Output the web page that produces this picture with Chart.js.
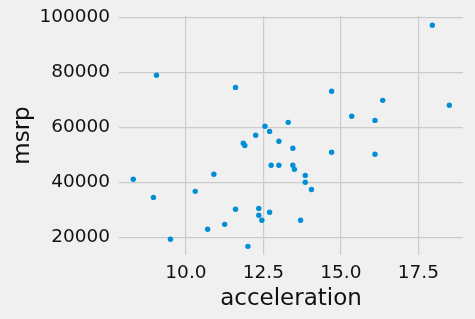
<!DOCTYPE html>
<html>
<head>
<meta charset="utf-8">
<script src="https://cdn.jsdelivr.net/npm/chart.js@4/dist/chart.umd.min.js"></script>
<style>
  html, body { margin: 0; padding: 0; background: #f0f0f0; }
  canvas { display: block; }
</style>
</head>
<body>
<canvas id="c" width="475" height="319"></canvas>
<script>
const acceleration = [8.3, 8.95, 9.05, 9.5, 10.3, 10.7, 10.9, 11.25, 11.6, 11.6, 11.85, 11.9, 12.0, 12.25, 12.35, 12.35, 12.45, 12.55, 12.7, 12.75, 12.7, 13.0, 13.0, 13.3, 13.45, 13.45, 13.5, 13.7, 13.85, 13.85, 14.05, 14.7, 14.7, 15.35, 16.1, 16.1, 16.35, 17.95, 18.5];
const msrp = [41100, 34500, 78900, 19300, 36700, 22900, 42900, 24700, 74500, 30200, 54200, 53400, 16700, 57100, 30500, 28000, 26200, 60400, 58500, 46200, 29100, 54900, 46200, 61800, 46200, 52400, 44700, 26200, 42500, 40000, 37400, 73100, 50900, 64000, 62500, 50200, 69800, 97100, 68000];
const xTicks = [10.0, 12.5, 15.0, 17.5];
const yTicks = [20000, 40000, 60000, 80000, 100000];

const points = acceleration.map((a, i) => ({ x: a, y: msrp[i] }));
const font = 'DejaVu Sans';

new Chart(document.getElementById('c'), {
  type: 'scatter',
  data: {
    datasets: [{
      data: points,
      backgroundColor: '#008fd5',
      pointRadius: 2.7,
      pointHoverRadius: 2.7,
      borderWidth: 0
    }]
  },
  options: {
    responsive: false,
    animation: false,
    layout: { padding: { top: 16, right: 12, left: 0, bottom: 0 } },
    plugins: { legend: { display: false }, tooltip: { enabled: false } },
    scales: {
      x: {
        type: 'linear',
        min: 7.84,
        max: 18.94,
        afterBuildTicks: s => { s.ticks = xTicks.map(v => ({ value: v })); },
        afterFit: s => { s.height = 64; s.paddingLeft = 0; s.paddingRight = 0; },
        border: { display: false },
        grid: { color: '#cbcbcb', lineWidth: 1.2, drawTicks: false },
        ticks: {
          padding: 7,
          color: '#111',
          font: { family: font, size: 18.5 },
          callback: v => Number(v).toFixed(1)
        },
        title: {
          display: true,
          text: 'acceleration',
          color: '#111',
          font: { family: font, size: 23 },
          padding: { top: 0, bottom: 6 }
        }
      },
      y: {
        type: 'linear',
        min: 13560,
        max: 100470,
        afterBuildTicks: s => { s.ticks = yTicks.map(v => ({ value: v })); },
        afterFit: s => { s.width = 119; s.paddingTop = 0; s.paddingBottom = 0; },
        border: { display: false },
        grid: { color: '#cbcbcb', lineWidth: 1.2, drawTicks: false },
        ticks: {
          padding: 9,
          color: '#111',
          font: { family: font, size: 18.5 },
          callback: v => String(v)
        },
        title: {
          display: true,
          text: 'msrp',
          color: '#111',
          font: { family: font, size: 23 },
          padding: { top: 9, bottom: 0 }
        }
      }
    }
  }
});
</script>
</body>
</html>
